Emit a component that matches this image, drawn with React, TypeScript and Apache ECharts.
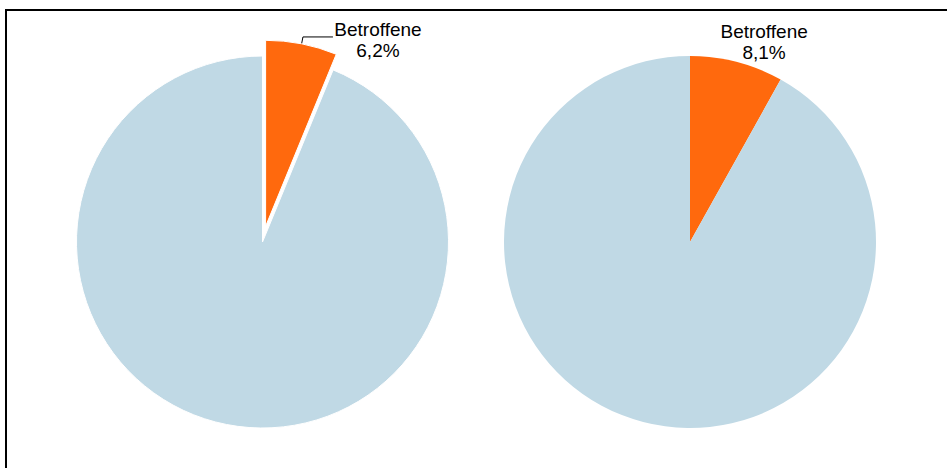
import React, { useEffect, useRef } from "react";
import * as echarts from "echarts";

const categories = ["Betroffene", "Nicht Betroffene"];
const leftValues = [6.2, 93.8];
const rightValues = [8.1, 91.9];
const labelTexts = ["6,2%", "8,1%"];

const ORANGE = "#FF690D";
const BLUE = "#C0D9E5";
const FONT = "'Liberation Sans', Arial, sans-serif";

export default function App() {
  const ref = useRef<HTMLDivElement>(null);
  useEffect(() => {
    if (!ref.current) return;
    const chart = echarts.init(ref.current, undefined, { renderer: "svg" });

    const makeData = (vals: number[], pct: string, leftSide: boolean) =>
      vals.map((v, i) => ({
        name: categories[i],
        value: v,
        selected: leftSide && i === 0,
        itemStyle: { color: i === 0 ? ORANGE : BLUE },
        label: { show: i === 0 },
        labelLine: { show: leftSide && i === 0 },
        pct,
      }));

    chart.setOption({
      animation: false,
      backgroundColor: "#ffffff",
      graphic: [
        { type: "line", shape: { x1: 5, y1: 10, x2: 947, y2: 10 }, style: { stroke: "#000", lineWidth: 2 } },
        { type: "line", shape: { x1: 6, y1: 9, x2: 6, y2: 468 }, style: { stroke: "#000", lineWidth: 2 } },
      ],
      series: [
        {
          type: "pie",
          center: [262.5, 242],
          radius: 186,
          startAngle: 90,
          clockwise: true,
          selectedMode: "single",
          selectedOffset: 16,
          avoidLabelOverlap: false,
          emphasis: { disabled: true },
          select: { itemStyle: { color: ORANGE } },
          itemStyle: { borderColor: "#ffffff", borderWidth: 1 },
          label: {
            position: "outside",
            distanceToLabelLine: 1,
            padding: [7, 0, 0, 0],
            formatter: (p: any) => `{a|${p.name}}\n{a|${labelTexts[0]}}`,
            rich: {
              a: { width: 88, align: "center", fontSize: 19, lineHeight: 21, fontFamily: FONT, color: "#000" },
            },
          },
          labelLine: { length: 7, length2: 30, lineStyle: { color: "#000", width: 1 } },
          data: makeData(leftValues, labelTexts[0], true),
        },
        {
          type: "pie",
          center: [690, 242],
          radius: 186,
          startAngle: 90,
          clockwise: true,
          selectedMode: false,
          avoidLabelOverlap: false,
          emphasis: { disabled: true },
          label: {
            position: "outside",
            distanceToLabelLine: 5,
            fontSize: 19,
            lineHeight: 21,
            fontFamily: FONT,
            color: "#000",
            formatter: (p: any) => `${p.name}\n${labelTexts[1]}`,
          },
          labelLayout: { align: "center" },
          labelLine: { show: false, length: 21, length2: 17 },
          data: makeData(rightValues, labelTexts[1], false),
        },
      ],
    });
    return () => chart.dispose();
  }, []);
  return (
    <div
      ref={ref}
      style={{ position: "fixed", left: 0, top: 0, width: 947, height: 468 }}
    />
  );
}
